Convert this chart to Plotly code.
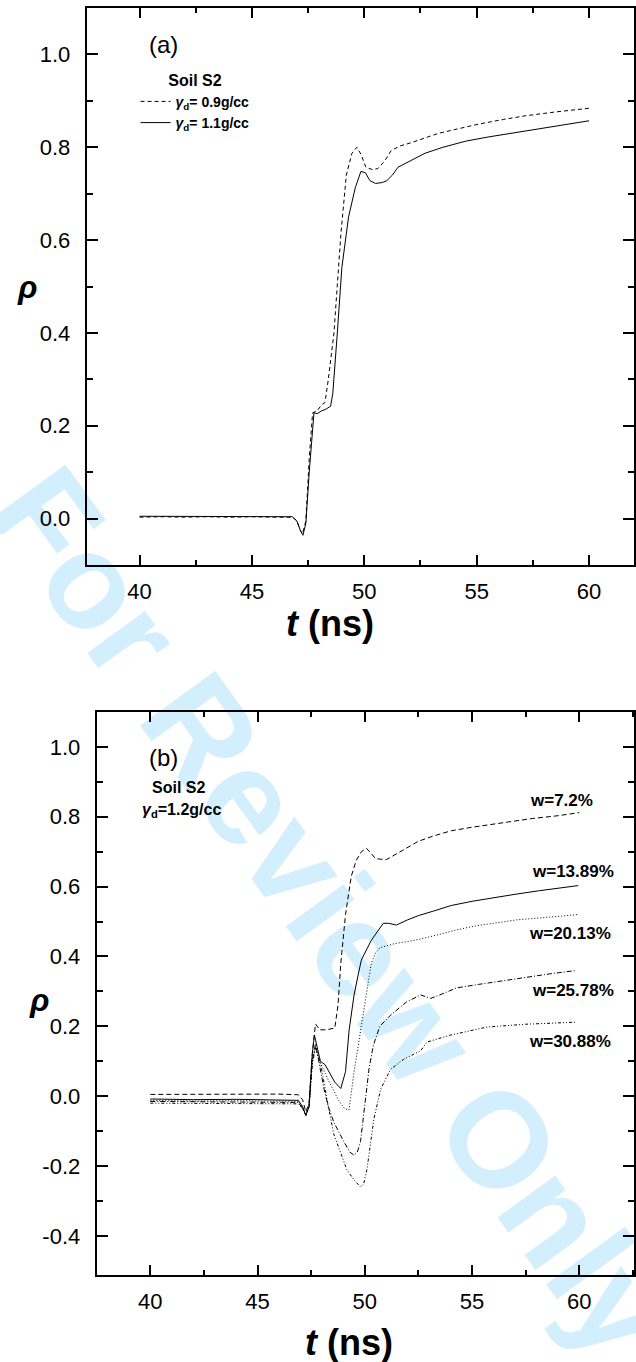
import plotly.graph_objects as go

# ---------------- Panel (a) data ----------------
t_a_09 = [40.0, 41.0, 42.0, 43.0, 44.0, 45.0, 46.0, 46.8, 47.0, 47.15, 47.25, 47.4, 47.55, 47.7, 47.9,
          48.1, 48.25, 48.4, 48.65, 48.96, 49.2, 49.45, 49.67, 49.85, 50.07, 50.35, 50.6, 50.9, 51.2,
          51.6, 52.1, 52.7, 53.3, 54.2, 55.1, 56.2, 57.2, 58.5, 59.8, 60.0]
rho_a_09 = [0.003, 0.004, 0.003, 0.004, 0.003, 0.004, 0.003, 0.003, -0.005, -0.025, -0.033, -0.005, 0.13,
            0.228, 0.232, 0.245, 0.25, 0.30, 0.40, 0.614, 0.74, 0.787, 0.80, 0.785, 0.757, 0.752, 0.754,
            0.77, 0.793, 0.803, 0.81, 0.82, 0.83, 0.84, 0.85, 0.86, 0.868, 0.876, 0.883, 0.884]

t_a_11 = [40.0, 41.0, 42.0, 43.0, 44.0, 45.0, 46.0, 46.8, 47.0, 47.15, 47.27, 47.4, 47.55, 47.76, 47.9,
          48.1, 48.3, 48.5, 48.6, 48.7, 48.8, 49.0, 49.3, 49.6, 49.85, 50.05, 50.25, 50.5, 50.8, 51.0,
          51.25, 51.5, 52.0, 52.7, 53.5, 54.5, 55.5, 56.5, 57.5, 58.3, 59.0, 59.8, 60.0]
rho_a_11 = [0.005, 0.005, 0.004, 0.005, 0.005, 0.005, 0.005, 0.004, -0.005, -0.025, -0.036, -0.01, 0.10,
            0.228, 0.226, 0.232, 0.236, 0.242, 0.27, 0.33, 0.40, 0.54, 0.65, 0.713, 0.748, 0.745, 0.728,
            0.722, 0.724, 0.728, 0.74, 0.757, 0.77, 0.787, 0.80, 0.813, 0.822, 0.83, 0.838, 0.844, 0.849,
            0.855, 0.857]

# ---------------- Panel (b) data ----------------
t_b_72 = [40, 42, 44, 46, 46.9, 47.1, 47.25, 47.4, 47.55, 47.7, 47.9, 48.2, 48.6, 48.75, 48.88, 49.1,
          49.37, 49.6, 49.84, 50.07, 50.3, 50.5, 51.0, 51.56, 52.0, 52.5, 53.2, 54.03, 55.0, 56.1, 57.0,
          57.8, 59.0, 59.8, 60.0]
rho_b_72 = [0.005, 0.006, 0.005, 0.006, 0.004, -0.01, -0.045, -0.02, 0.12, 0.207, 0.19, 0.19, 0.195,
            0.26, 0.38, 0.52, 0.63, 0.675, 0.70, 0.71, 0.695, 0.68, 0.677, 0.697, 0.712, 0.73, 0.745, 0.76,
            0.77, 0.78, 0.787, 0.795, 0.803, 0.81, 0.812]

t_b_1389 = [40, 42, 44, 46, 46.9, 47.1, 47.25, 47.4, 47.55, 47.65, 47.8, 47.93, 48.15, 48.4, 48.6, 48.88,
            49.1, 49.27, 49.5, 49.7, 49.84, 50.3, 50.86, 51.1, 51.47, 52.0, 52.5, 53.2, 54.03, 55.0, 56.1,
            57.0, 58.1, 59.0, 59.95]
rho_b_1389 = [-0.008, -0.01, -0.009, -0.01, -0.012, -0.03, -0.055, -0.03, 0.12, 0.175, 0.13, 0.10, 0.09,
              0.06, 0.04, 0.022, 0.07, 0.19, 0.29, 0.35, 0.39, 0.446, 0.495, 0.495, 0.49, 0.505, 0.517, 0.53,
              0.546, 0.558, 0.57, 0.578, 0.588, 0.595, 0.603]

t_b_2013 = [40, 42, 44, 46, 46.9, 47.1, 47.25, 47.4, 47.55, 47.7, 47.9, 48.3, 48.76, 49.05, 49.26, 49.5,
            49.8, 50.05, 50.3, 50.5, 50.7, 51.0, 51.4, 52.0, 52.6, 53.4, 54.2, 55.1, 56.1, 57.1, 58.1, 59.0,
            59.95]
rho_b_2013 = [-0.012, -0.014, -0.013, -0.014, -0.015, -0.03, -0.055, -0.03, 0.10, 0.14, 0.10, 0.046,
              -0.01, -0.035, -0.04, 0.07, 0.19, 0.29, 0.38, 0.41, 0.425, 0.43, 0.437, 0.443, 0.45, 0.462,
              0.475, 0.487, 0.497, 0.505, 0.51, 0.515, 0.52]

t_b_2578 = [40, 42, 44, 46, 46.9, 47.1, 47.25, 47.4, 47.55, 47.7, 47.9, 48.1, 48.3, 48.56, 49.02, 49.3,
            49.5, 49.65, 49.8, 50.0, 50.2, 50.4, 50.7, 51.2, 51.95, 52.6, 53.07, 53.5, 54.28, 55.3, 56.3,
            57.5, 58.6, 59.86]
rho_b_2578 = [-0.015, -0.016, -0.015, -0.017, -0.018, -0.035, -0.055, -0.03, 0.10, 0.15, 0.08, 0.02,
              -0.03, -0.075, -0.13, -0.16, -0.169, -0.16, -0.13, -0.02, 0.08, 0.146, 0.20, 0.232, 0.27,
              0.29, 0.28, 0.29, 0.31, 0.32, 0.33, 0.34, 0.35, 0.36]

t_b_3088 = [40, 42, 44, 46, 46.9, 47.1, 47.25, 47.4, 47.55, 47.7, 47.97, 48.3, 48.56, 49.16, 49.5, 49.8,
            49.95, 50.1, 50.42, 50.74, 51.2, 51.8, 52.6, 52.9, 54.0, 55.7, 57.5, 59.86]
rho_b_3088 = [-0.02, -0.021, -0.02, -0.022, -0.022, -0.035, -0.055, -0.03, 0.09, 0.14, 0.083, -0.03,
              -0.11, -0.21, -0.24, -0.26, -0.25, -0.21, -0.066, 0.02, 0.077, 0.105, 0.13, 0.155, 0.175,
              0.198, 0.206, 0.212]

# ---------------- Axis / text content ----------------
x_ticks = [40, 45, 50, 55, 60]
x_tick_labels = ["40", "45", "50", "55", "60"]
x_minor_a = [42.5, 47.5, 52.5, 57.5]
x_minor_b = [37.5, 42.5, 47.5, 52.5, 57.5, 62.5]
y_ticks_a = [0.0, 0.2, 0.4, 0.6, 0.8, 1.0]
y_tick_labels_a = ["0.0", "0.2", "0.4", "0.6", "0.8", "1.0"]
y_minor_a = [0.1, 0.3, 0.5, 0.7, 0.9]
y_ticks_b = [-0.4, -0.2, 0.0, 0.2, 0.4, 0.6, 0.8, 1.0]
y_tick_labels_b = ["-0.4", "-0.2", "0.0", "0.2", "0.4", "0.6", "0.8", "1.0"]
y_minor_b = [-0.3, -0.1, 0.1, 0.3, 0.5, 0.7, 0.9]

legend_a_names = ["<b><i>γ</i><sub>d</sub>= 0.9g/cc</b>", "<b><i>γ</i><sub>d</sub>= 1.1g/cc</b>"]
w_labels = ["w=7.2%", "w=13.89%", "w=20.13%", "w=25.78%", "w=30.88%"]

FONT = "Liberation Sans, Arial, sans-serif"
W, H = 636, 1362


def px(xp):
    return xp / W


def py(yp):
    return 1 - yp / H


fig = go.Figure()

fig.add_trace(go.Scatter(x=t_a_09, y=rho_a_09, mode="lines", name=legend_a_names[0],
                         line=dict(color="black", width=1, dash="4px,3px"), xaxis="x", yaxis="y"))
fig.add_trace(go.Scatter(x=t_a_11, y=rho_a_11, mode="lines", name=legend_a_names[1],
                         line=dict(color="black", width=1), xaxis="x", yaxis="y"))

b_series = [
    (t_b_72, rho_b_72, "5px,3px"),
    (t_b_1389, rho_b_1389, "solid"),
    (t_b_2013, rho_b_2013, "1px,2px"),
    (t_b_2578, rho_b_2578, "5px,2px,1px,2px"),
    (t_b_3088, rho_b_3088, "3px,2px,1px,2px,1px,2px"),
]
for (tt, rr, dash), nm in zip(b_series, w_labels):
    fig.add_trace(go.Scatter(x=tt, y=rr, mode="lines", name=nm, showlegend=False,
                             line=dict(color="black", width=1, dash=dash), xaxis="x2", yaxis="y2"))


def xax(domain, rng, minor, anchor):
    return dict(domain=domain, range=rng, anchor=anchor, showgrid=False, zeroline=False,
                showline=True, linewidth=2, linecolor="black", mirror="ticks",
                ticks="inside", ticklen=10, tickwidth=2, tickcolor="black",
                tickmode="array", tickvals=x_ticks, ticktext=x_tick_labels,
                tickfont=dict(family=FONT, size=22, color="black"), ticklabelstandoff=6,
                minor=dict(ticks="inside", ticklen=5, tickwidth=2, tickcolor="black",
                           tickmode="array", tickvals=minor, showgrid=False))


def yax(domain, rng, vals, text, minor, anchor):
    return dict(domain=domain, range=rng, anchor=anchor, showgrid=False, zeroline=False,
                showline=True, linewidth=2, linecolor="black", mirror="ticks",
                ticks="inside", ticklen=11, tickwidth=2, tickcolor="black",
                tickmode="array", tickvals=vals, ticktext=text,
                tickfont=dict(family=FONT, size=22, color="black"), ticklabelstandoff=10,
                minor=dict(ticks="inside", ticklen=6, tickwidth=2, tickcolor="black",
                           tickmode="array", tickvals=minor, showgrid=False))


fig.update_layout(
    width=W, height=H, margin=dict(l=0, r=0, t=0, b=0),
    paper_bgcolor="white", plot_bgcolor="rgba(0,0,0,0)",
    font=dict(family=FONT, color="black"),
    xaxis=xax([px(87), 1.0], [37.65, 62.0], x_minor_a, "y"),
    yaxis=yax([py(565), py(8)], [-0.1, 1.1], y_ticks_a, y_tick_labels_a, y_minor_a, "x"),
    xaxis2=xax([px(97), 1.0], [37.5, 62.55], x_minor_b, "y2"),
    yaxis2=yax([py(1275), py(712)], [-0.512, 1.1], y_ticks_b, y_tick_labels_b, y_minor_b, "x2"),
    showlegend=True,
    legend=dict(x=px(136), y=py(65), xanchor="left", yanchor="top",
                bgcolor="rgba(0,0,0,0)", borderwidth=0,
                font=dict(family=FONT, size=14, color="black"),
                title=dict(text="<b>Soil S2</b>", side="top center",
                           font=dict(family=FONT, size=16, color="black")),
                tracegroupgap=4, itemwidth=30),
)

# Watermark (below the traces)
fig.add_shape(type="rect", xref="paper", yref="paper",
              x0=px(245), x1=px(445), y0=py(1005), y1=py(805),
              line=dict(width=0), fillcolor="rgba(0,0,0,0)", layer="below",
              label=dict(text="<b>For Review Only</b>", textangle=54, textposition="middle center",
                         font=dict(family=FONT, size=135, color="#d3eefc")))

ann = []
# Panel (a) texts
ann.append(dict(text="(a)", x=px(164), y=py(44), font=dict(size=24)))
ann.append(dict(text="<b><i>t</i> (ns)</b>", x=px(331), y=py(623), font=dict(size=36)))
ann.append(dict(text="<b><i>ρ</i></b>", x=px(27), y=py(287), font=dict(size=32)))
# Panel (b) texts
ann.append(dict(text="(b)", x=px(164), y=py(757), font=dict(size=24)))
ann.append(dict(text="<b>Soil S2</b>", x=px(179), y=py(787), font=dict(size=16)))
ann.append(dict(text="<b><i>γ</i><sub>d</sub>=1.2g/cc</b>", x=px(182), y=py(810), font=dict(size=16)))
ann.append(dict(text="<b><i>t</i> (ns)</b>", x=px(350), y=py(1342), font=dict(size=36)))
ann.append(dict(text="<b><i>ρ</i></b>", x=px(39), y=py(1000), font=dict(size=32)))
w_label_pos = [(563, 800), (575, 871), (572, 933), (575, 990), (572, 1041)]
for lab, (xx, yy) in zip(w_labels, w_label_pos):
    ann.append(dict(text="<b>" + lab + "</b>", x=px(xx), y=py(yy), font=dict(size=17)))

for a in ann:
    a.update(xref="paper", yref="paper", showarrow=False, xanchor="center", yanchor="middle")
    a["font"].update(family=FONT, color="black")
fig.update_layout(annotations=ann)

fig.write_html("out.html")
